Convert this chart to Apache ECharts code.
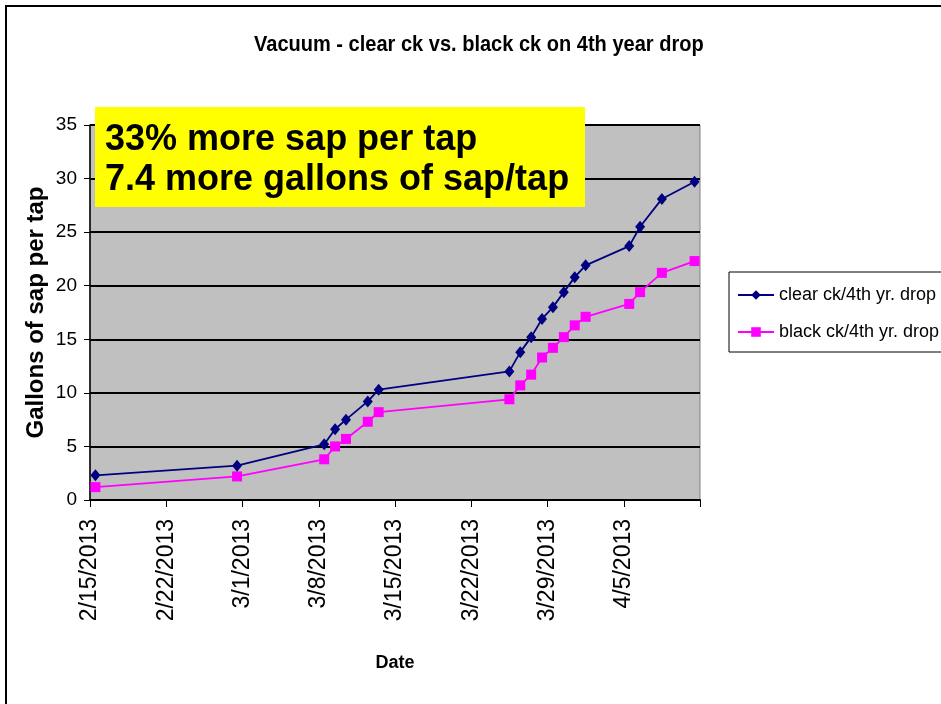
<!DOCTYPE html>
<html>
<head>
<meta charset="utf-8">
<script src="https://cdn.jsdelivr.net/npm/echarts@6/dist/echarts.min.js"></script>
<style>
  html, body { margin: 0; padding: 0; background: #ffffff; }
  #chart { width: 941px; height: 704px; }
</style>
</head>
<body>
<div id="chart"></div>
<script>
// Collection dates (one reading per date, shared by both lines)
const sampleDates = [
  '2013-02-15', '2013-02-28', '2013-03-08', '2013-03-09', '2013-03-10',
  '2013-03-12', '2013-03-13', '2013-03-25', '2013-03-26', '2013-03-27',
  '2013-03-28', '2013-03-29', '2013-03-30', '2013-03-31', '2013-04-01',
  '2013-04-05', '2013-04-06', '2013-04-08', '2013-04-11'
];

// Cumulative gallons of sap per tap
const clearCheck = [2.3, 3.2, 5.2, 6.6, 7.5, 9.2, 10.3, 12.0, 13.8, 15.2,
                    16.9, 18.0, 19.4, 20.8, 21.9, 23.7, 25.5, 28.1, 29.7];
const blackCheck = [1.2, 2.2, 3.8, 5.0, 5.7, 7.3, 8.2, 9.4, 10.7, 11.7,
                    13.3, 14.2, 15.2, 16.3, 17.1, 18.3, 19.4, 21.2, 22.3];

const seriesNames = ['clear ck/4th yr. drop', 'black ck/4th yr. drop'];

// Weekly date ticks along the x axis (the last tick carries no label)
const xTickLabels = ['2/15/2013', '2/22/2013', '3/1/2013', '3/8/2013',
                     '3/15/2013', '3/22/2013', '3/29/2013', '4/5/2013', ''];
const yTickValues = [0, 5, 10, 15, 20, 25, 30, 35];

const chartTitle = 'Vacuum - clear ck vs. black ck on 4th year drop';
const calloutLines = ['33% more sap per tap', '7.4 more gallons of sap/tap'];

const startDate = '2013-02-15';
const DAY = 86400000;
function dayIndex(s) {
  const p = s.split('-').map(Number);
  const q = startDate.split('-').map(Number);
  return (Date.UTC(p[0], p[1] - 1, p[2]) - Date.UTC(q[0], q[1] - 1, q[2])) / DAY;
}
// each reading sits in the middle of its day slot
const xs = sampleDates.map(d => dayIndex(d) + 0.5);
const clearData = xs.map((x, i) => [x, clearCheck[i]]);
const blackData = xs.map((x, i) => [x, blackCheck[i]]);

const sans = "'Liberation Sans', Arial, sans-serif";

const chart = echarts.init(document.getElementById('chart'), null, { renderer: 'canvas' });

chart.setOption({
  backgroundColor: '#ffffff',
  animation: false,
  legend: {
    orient: 'vertical',
    left: 729,
    top: 272,
    padding: [13, 10, 10, 8],
    itemGap: 17,
    itemWidth: 36,
    itemHeight: 12,
    borderColor: '#000',
    borderWidth: 1,
    borderRadius: 0,
    backgroundColor: '#fff',
    textStyle: { fontFamily: sans, fontSize: 18, lineHeight: 20, color: '#000' },
    data: seriesNames
  },
  grid: {
    left: 90, right: 241, top: 125, bottom: 204,
    show: true,
    backgroundColor: '#c0c0c0',
    borderColor: '#808080',
    borderWidth: 1
  },
  xAxis: {
    type: 'value',
    min: 0,
    max: 56,
    interval: 7,
    name: 'Date',
    nameLocation: 'middle',
    nameGap: 154,
    nameTextStyle: { fontFamily: sans, fontWeight: 'bold', fontSize: 18, color: '#000' },
    axisLine: { show: true, onZero: false, lineStyle: { color: '#000', width: 2 } },
    axisTick: { show: true, inside: false, length: 7, lineStyle: { color: '#000', width: 1 } },
    axisLabel: {
      rotate: 90,
      margin: 19,
      fontFamily: sans,
      fontSize: 23,
      color: '#000',
      formatter: v => xTickLabels[Math.round(v / 7)] || ''
    },
    splitLine: { show: false }
  },
  yAxis: {
    type: 'value',
    min: yTickValues[0],
    max: yTickValues[yTickValues.length - 1],
    interval: 5,
    name: 'Gallons of sap per tap',
    nameLocation: 'middle',
    nameRotate: 90,
    nameGap: 42,
    nameMoveOverlap: false,
    nameTextStyle: { fontFamily: sans, fontWeight: 'bold', fontSize: 24, color: '#000' },
    axisLine: { show: true, lineStyle: { color: '#000', width: 1.5 } },
    axisTick: { show: true, inside: false, length: 6, lineStyle: { color: '#000', width: 1 } },
    axisLabel: { margin: 13, fontFamily: sans, fontSize: 19, color: '#000' },
    splitLine: { show: true, lineStyle: { color: '#000', width: 2 } }
  },
  series: [
    {
      name: seriesNames[0],
      type: 'line',
      data: clearData,
      symbol: 'diamond',
      symbolSize: [10, 12],
      showAllSymbol: true,
      itemStyle: { color: '#000080' },
      lineStyle: { color: '#000080', width: 1.8 },
      z: 3
    },
    {
      name: seriesNames[1],
      type: 'line',
      data: blackData,
      symbol: 'rect',
      symbolSize: 10,
      showAllSymbol: true,
      itemStyle: { color: '#ff00ff' },
      lineStyle: { color: '#ff00ff', width: 1.8 },
      z: 2
    }
  ],
  graphic: [
    {
      type: 'rect',
      x: 6, y: 6,
      shape: { x: 0, y: 0, width: 1000, height: 800 },
      style: { fill: 'none', stroke: '#000', lineWidth: 2 },
      silent: true,
      z: 100
    },
    {
      // chart title, set in a condensed bold face
      type: 'text',
      x: 254, y: 33,
      scaleX: 0.89,
      z: 100,
      style: { text: chartTitle, fontFamily: sans, fontWeight: 'bold', fontSize: 22.5, fill: '#000' }
    },
    {
      type: 'rect',
      x: 95, y: 107,
      shape: { x: 0, y: 0, width: 490, height: 100 },
      style: { fill: '#ffff00' },
      z: 100
    },
    {
      type: 'text',
      x: 105, y: 122,
      z: 101,
      style: { text: calloutLines[0], fontFamily: sans, fontWeight: 'bold', fontSize: 36, fill: '#000' }
    },
    {
      type: 'text',
      x: 105, y: 162,
      z: 101,
      style: { text: calloutLines[1], fontFamily: sans, fontWeight: 'bold', fontSize: 36, fill: '#000' }
    }
  ]
});
</script>
</body>
</html>
